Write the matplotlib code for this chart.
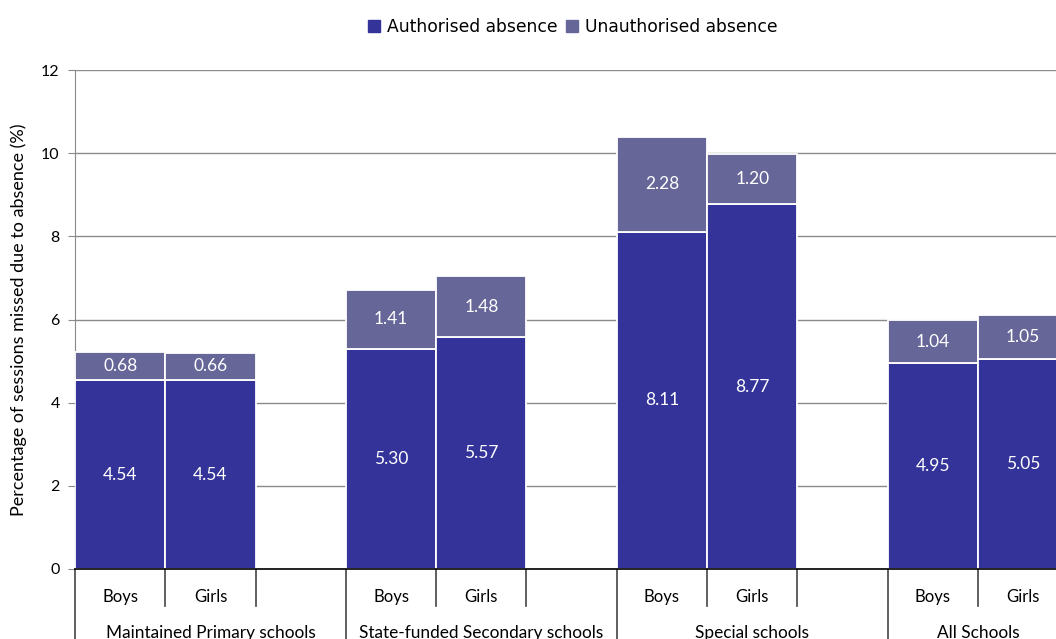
import matplotlib
matplotlib.use("Agg")
import matplotlib.pyplot as plt
import matplotlib.transforms as mtransforms
from matplotlib.patches import Patch

groups = ["Maintained Primary schools", "State-funded Secondary schools", "Special schools", "All Schools"]
sexes = ["Boys", "Girls"]
authorised = [[4.54, 4.54], [5.30, 5.57], [8.11, 8.77], [4.95, 5.05]]
unauthorised = [[0.68, 0.66], [1.41, 1.48], [2.28, 1.20], [1.04, 1.05]]
yticks = [0, 2, 4, 6, 8, 10, 12]

c_auth = "#333399"
c_unauth = "#666699"

W, H = 1056, 639
fig = plt.figure(figsize=(W / 100, H / 100), dpi=100)
slot = 90.3
left_px, bottom_px, top_px = 75, 569, 70
ax = fig.add_axes([left_px / W, 1 - bottom_px / H, 11 * slot / W, (bottom_px - top_px) / H])

font = "Lato"
for g in range(len(groups)):
    for s in range(2):
        x = 3 * g + s + 0.5
        a = authorised[g][s]
        u = unauthorised[g][s]
        ax.bar(x, a, width=1, color=c_auth, edgecolor="white", linewidth=1.3, zorder=3)
        ax.bar(x, u, bottom=a, width=1, color=c_unauth, edgecolor="white", linewidth=1.3, zorder=3)
        ax.text(x, a / 2, f"{a:.2f}", color="white", ha="center", va="center", fontsize=12.5, family=font, zorder=4)
        ax.text(x, a + u / 2, f"{u:.2f}", color="white", ha="center", va="center", fontsize=12.5, family=font, zorder=4)

ax.set_xlim(0, 11)
ax.set_ylim(0, 12)
ax.set_yticks(yticks)
ax.set_yticklabels([str(t) for t in yticks], family=font, fontsize=11.5)
ax.yaxis.grid(True, color="#8a8a8a", linewidth=1, zorder=0)
ax.set_axisbelow(True)
ax.tick_params(axis="y", length=5, color="#8a8a8a", pad=6)
ax.set_xticks([])
for sp in ["top", "right"]:
    ax.spines[sp].set_visible(False)
ax.spines["left"].set_color("#8a8a8a")
ax.spines["bottom"].set_color("black")
ax.spines["bottom"].set_linewidth(1.2)
ax.spines["bottom"].set_zorder(5)

ax.set_ylabel("Percentage of sessions missed due to absence (%)", family=font, fontsize=13, labelpad=10)

trans = mtransforms.blended_transform_factory(ax.transData, ax.transAxes)
span = bottom_px - top_px
short_y = -(606 - bottom_px) / span
long_y = -0.2
for g in range(len(groups)):
    base = 3 * g
    ax.plot([base, base], [0, long_y], transform=trans, color="#444444", lw=1.2, clip_on=False)
    ax.plot([base + 1, base + 1], [0, short_y], transform=trans, color="#444444", lw=1.2, clip_on=False)
    ax.plot([base + 2, base + 2], [0, short_y], transform=trans, color="#444444", lw=1.2, clip_on=False)
    for s in range(2):
        ax.text(base + s + 0.5, -(597 - bottom_px) / span, sexes[s], transform=trans,
                ha="center", va="center", family=font, fontsize=12)
    cx = base + 1.5 if g < len(groups) - 1 else base + 1.0
    ax.text(cx, -(633 - bottom_px) / span, groups[g], transform=trans,
            ha="center", va="center", family=font, fontsize=12.4)

handles = [Patch(facecolor=c_auth, edgecolor=c_auth), Patch(facecolor=c_unauth, edgecolor=c_unauth)]
fig.legend(handles, ["Authorised absence", "Unauthorised absence"], loc="center",
           bbox_to_anchor=(573 / W, 1 - 27 / H), ncol=2, frameon=False,
           prop={"family": "DejaVu Sans", "size": 12.3}, handlelength=0.7, handleheight=0.7,
           handletextpad=0.4, columnspacing=0.5)

fig.savefig("out.png", dpi=100)
